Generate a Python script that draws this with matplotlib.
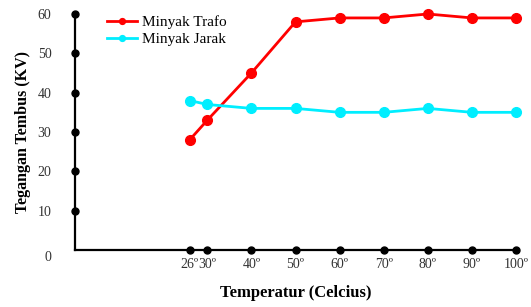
import matplotlib
matplotlib.use('Agg')
from matplotlib import pyplot as plt
from matplotlib.transforms import ScaledTranslation

# data
suhu = [26, 30, 40, 50, 60, 70, 80, 90, 100]
label_suhu = ['26º', '30º', '40º', '50º', '60º', '70º', '80º', '90º', '100º']
trafo = [28, 33, 45, 58, 59, 59, 60, 59, 59]
jarak = [38, 37, 36, 36, 35, 35, 36, 35, 35]
y_ticks = [0, 10, 20, 30, 40, 50, 60]

plt.rcParams['font.family'] = ['Liberation Serif', 'DejaVu Serif']

fig = plt.figure(figsize=(5.31, 3.07), dpi=100)
ax = fig.add_axes([75 / 531, 57 / 307, 441 / 531, 236 / 307])

ax.plot(suhu, trafo, '-o', color='#ff0000', linewidth=2, markersize=7,
        label='Minyak Trafo', clip_on=False, zorder=3)
ax.plot(suhu, jarak, '-o', color='#00eeff', linewidth=2, markersize=7,
        label='Minyak Jarak', clip_on=False, zorder=3)

# titik hitam di sumbu
ax.plot([0] * 6, y_ticks[1:], 'o', color='black', markersize=5, clip_on=False, zorder=4)
ax.plot(suhu, [0] * len(suhu), 'o', color='black', markersize=5, clip_on=False, zorder=4)

ax.set_xlim(0, 100)
ax.set_ylim(0, 60)
ax.set_xticks(suhu)
ax.set_xticklabels(label_suhu, fontsize=10, color='#333333')
ax.set_yticks(y_ticks)
ax.set_yticklabels(y_ticks, fontsize=10, color='#333333')
ax.tick_params(length=0, pad=6)
ax.tick_params(axis='y', pad=17)

# label 0 sedikit lebih rendah
lbl0 = ax.get_yticklabels()[0]
lbl0.set_transform(lbl0.get_transform() + ScaledTranslation(0, -6 / 100, fig.dpi_scale_trans))

for s in ['top', 'right']:
    ax.spines[s].set_visible(False)
for s in ['left', 'bottom']:
    ax.spines[s].set_linewidth(1.6)

ax.set_xlabel('Temperatur (Celcius)', fontsize=12, fontweight='bold', labelpad=10)
ax.set_ylabel('Tegangan Tembus (KV)', fontsize=11.5, fontweight='bold', labelpad=5)

ax.legend(loc='upper left', bbox_to_anchor=(0.041, 1.052), frameon=False, fontsize=11,
          markerscale=0.6, handlelength=2.0, handletextpad=0.3, labelspacing=0.2)

plt.savefig('out.png', dpi=100)
